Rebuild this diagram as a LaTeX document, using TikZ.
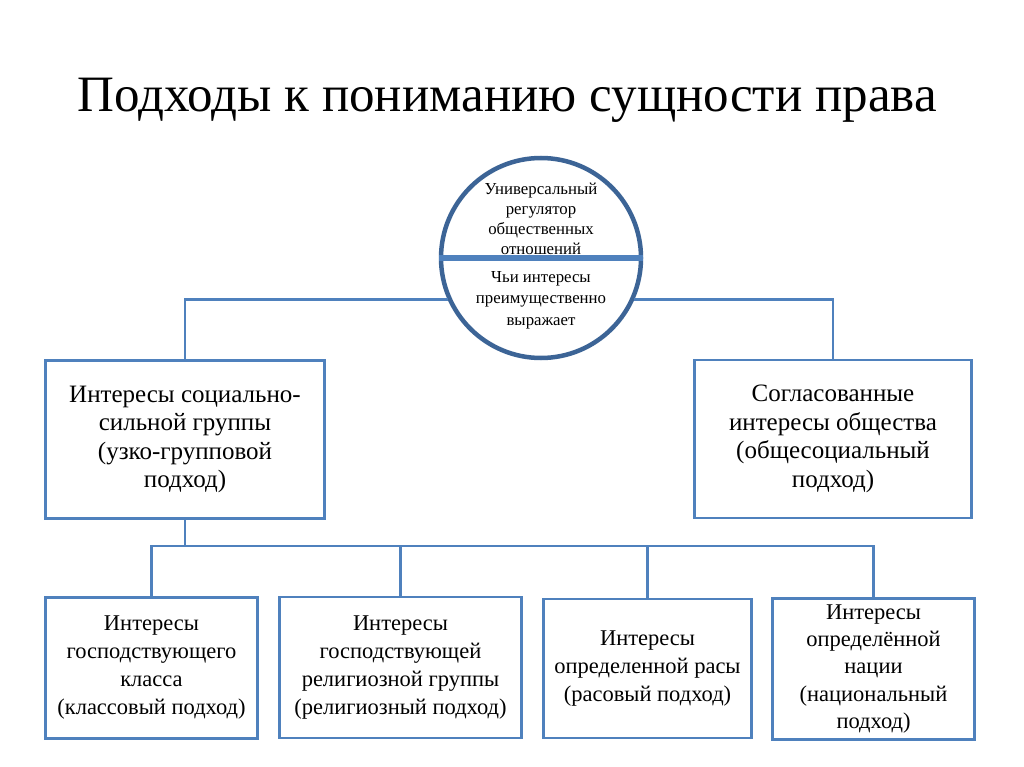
\documentclass[tikz,border=0pt]{standalone}
\usepackage{fontspec}
\setmainfont{Liberation Serif}
\usetikzlibrary{positioning}

\definecolor{boxblue}{HTML}{4F81BD}
\definecolor{ringblue}{HTML}{3C6496}

\tikzset{
  box/.style={draw=boxblue, line width=2.8pt, align=center, inner sep=0pt},
  bigbox/.style={box, minimum width=279pt, minimum height=158pt, font=\fontsize{25}{28.5}\selectfont},
  smallbox/.style={box, minimum height=141pt, font=\fontsize{22.5}{28}\selectfont},
  conn/.style={draw=boxblue, line width=2.8pt},
  ctext/.style={align=center, inner sep=0pt, font=\fontsize{16.8}{20}\selectfont},
}

\begin{document}
\begin{tikzpicture}[x=1pt,y=-1pt]
\useasboundingbox[fill=white] (0,0) rectangle (1024,767);

\node[font=\fontsize{51}{56}\selectfont, anchor=base] (title) at (507,112) {Подходы к пониманию сущности права};

% circle
\node[circle, draw=ringblue, line width=4.5pt, minimum size=200pt, inner sep=0pt] (circ) at (541,258) {};
\draw[boxblue, line width=6pt] (circ.west) -- (circ.east);
\node[ctext, anchor=south] (upper) at ([yshift=3pt]circ.center) {Универсальный\\регулятор\\общественных\\отношений};
\node[ctext, anchor=north, font=\fontsize{16.8}{21.5}\selectfont] (lower) at ([yshift=-13pt]circ.center) {Чьи интересы\\преимущественно\\выражает};

% middle row
\node[bigbox] (lbox) at (185,439.5) {Интересы социально-\\сильной группы\\(узко-групповой\\подход)};
\node[bigbox, minimum width=277pt] (rbox) at (833,439) {Согласованные\\интересы общества\\(общесоциальный\\подход)};

% bottom row
\node[smallbox, minimum width=212pt] (b1) at (151.5,668) {Интересы\\господствующего\\класса\\(классовый подход)};
\node[smallbox, minimum width=242pt] (b2) at (400.5,667.5) {Интересы\\господствующей\\религиозной группы\\(религиозный подход)};
\node[smallbox, minimum width=208pt, minimum height=139pt] (b3) at (647.5,668.5) {Интересы\\определенной расы\\(расовый подход)};
\node[smallbox, minimum width=202pt, font=\fontsize{22.5}{27.2}\selectfont] (b4) at (873.5,669) {Интересы\\определённой\\нации\\(национальный\\подход)};

% connectors
\draw[conn] (circ.204) -| (lbox.north);
\draw[conn] (circ.-24) -| (rbox.north);
\coordinate (bus) at (0,546);
\draw[conn] (lbox.south) -- (lbox.south |- bus);
\draw[conn] (b1.north) |- (bus -| b4.north) -- (b4.north);
\draw[conn] (b2.north) -- (b2.north |- bus);
\draw[conn] (b3.north) -- (b3.north |- bus);
\end{tikzpicture}
\end{document}
